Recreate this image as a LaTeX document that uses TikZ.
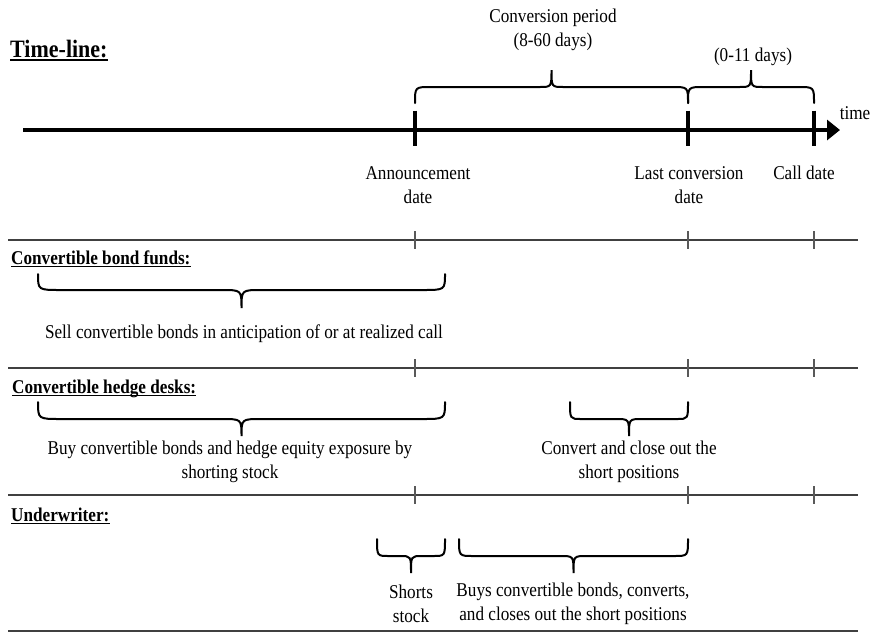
\documentclass[tikz,border=0pt]{standalone}
\usepackage{fontspec}
\setmainfont{Liberation Serif}[FakeStretch=0.88]
\usetikzlibrary{arrows.meta}
% x1, x2, y of ends, y of bar, y of tip, end radius, tip radius
\newcommand\curlybr[7]{%
  \draw[bracestyle] (#1,#3) .. controls (#1,#4) .. ({#1+#6},#4)
    -- ({(#1+#2)/2-#7},#4) .. controls ({(#1+#2)/2},#4) .. ({(#1+#2)/2},#5)
    .. controls ({(#1+#2)/2},#4) .. ({(#1+#2)/2+#7},#4)
    -- ({#2-#6},#4) .. controls (#2,#4) .. (#2,#3);}
\tikzset{
  axisline/.style={line width=3.3pt,-{Triangle[length=13pt,width=20pt]}},
  tickmark/.style={line width=3.3pt},
  sepline/.style={line width=1.1pt,draw=black!75},
  septick/.style={line width=1.1pt,draw=black!65},
  bracestyle/.style={line width=2pt,line cap=round},
  lbl/.style={inner sep=0pt,align=center,font=\fontsize{19.5}{23.5}\selectfont},
  head/.style={inner sep=0pt,anchor=base west,font=\fontsize{19.5}{23.5}\selectfont\bfseries},
  ulinestyle/.style={line width=1.6pt}
}
\begin{document}
\begin{tikzpicture}[x=1pt,y=-1pt]
\useasboundingbox (0,0) rectangle (872,633);
% title
\node[inner sep=0pt,anchor=base west,font=\fontsize{25}{30}\selectfont\bfseries] (title) at (10,57) {Time-line:};
\draw[ulinestyle,line width=2pt] ([yshift=-3pt]title.base west) -- ([yshift=-3pt]title.base east);
% axis
\coordinate (s) at (23,130);
\coordinate (e) at (840,130);
\draw[axisline] (s) -- (e);
\draw[tickmark] (415,110.5) -- (415,145.5);
\draw[tickmark] (688,110.5) -- (688,145.5);
\draw[tickmark] (814,110.5) -- (814,145.5);
% top braces
\curlybr{415}{688}{103}{87}{70}{16}{12}
\curlybr{688}{814}{103}{87}{70}{16}{12}
\node[lbl] (conv) at (553,30) {Conversion period\\(8-60 days)};
\node[lbl] (days) at (753,57) {(0-11 days)};
\node[lbl] (time) at (855,113) {time};
\node[lbl] (ann) at (418,185) {Announcement\\date};
\node[lbl] (last) at (689,185) {Last conversion\\date};
\node[lbl] (call) at (804,173) {Call date};
% separator lines
\foreach \yy in {240,368,495,631}{
  \draw[sepline] (8,\yy) -- (858,\yy);
}
\foreach \yy in {240,368,495}{
  \foreach \xx in {415,688,814}{
    \draw[septick] (\xx,\yy-9) -- (\xx,\yy+9);
  }
}
% section 1
\node[head] (h1) at (11,264) {Convertible bond funds:};
\draw[ulinestyle] ([yshift=-2.5pt]h1.base west) -- ([yshift=-2.5pt]h1.base east);
\curlybr{38}{445}{274}{290}{308}{23}{20}
\node[lbl] (sell) at (244,334) {Sell convertible bonds in anticipation of or at realized call};
% section 2
\node[head] (h2) at (12,393) {Convertible hedge desks:};
\draw[ulinestyle] ([yshift=-2.5pt]h2.base west) -- ([yshift=-2.5pt]h2.base east);
\curlybr{38}{445}{402}{419}{436}{23}{20}
\curlybr{570}{688}{402}{419}{436}{11}{13}
\node[lbl] (buy) at (230,462) {Buy convertible bonds and hedge equity exposure by\\shorting stock};
\node[lbl] (convert) at (629,462) {Convert and close out the\\short positions};
% section 3
\node[head] (h3) at (11,521) {Underwriter:};
\draw[ulinestyle] ([yshift=-2.5pt]h3.base west) -- ([yshift=-2.5pt]h3.base east);
\curlybr{377}{445}{539}{556}{573}{12}{11}
\curlybr{459}{688}{539}{556}{573}{14}{13}
\node[lbl] (shorts) at (411,604) {Shorts\\stock};
\node[lbl] (buys) at (573,604) {Buys convertible bonds, converts,\\and closes out the short positions};
\end{tikzpicture}
\end{document}
